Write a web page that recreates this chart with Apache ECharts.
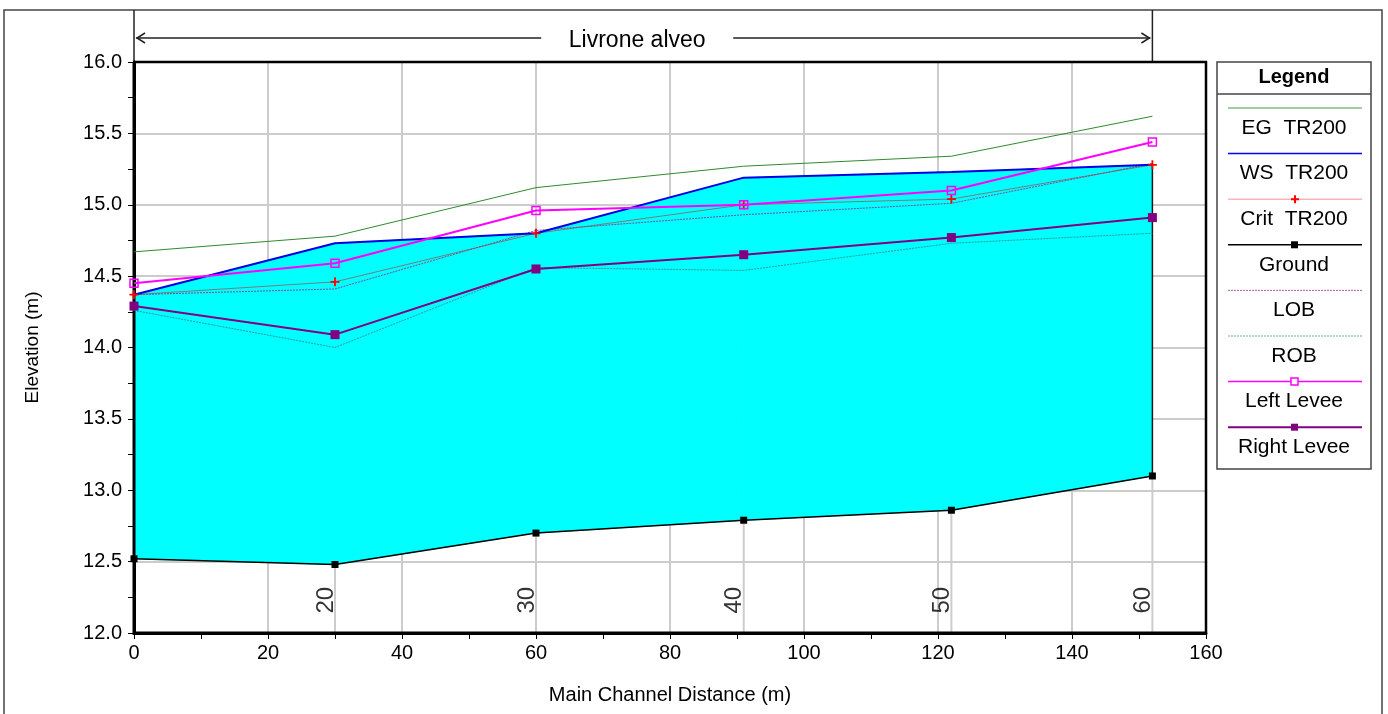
<!DOCTYPE html>
<html>
<head>
<meta charset="utf-8">
<script src="https://cdn.jsdelivr.net/npm/echarts@6/dist/echarts.min.js"></script>
<style>
  html, body { margin: 0; padding: 0; background: #fff; }
  #chart { width: 1388px; height: 714px; }
</style>
</head>
<body>
<div id="chart"></div>
<script>
// river stations along the reach (main channel distance, m)
const stations = [0, 30, 60, 91, 122, 152];
const stationLabels = ['', '20', '30', '40', '50', '60'];

// elevations (m)
const egTR200 = [14.67, 14.78, 15.12, 15.27, 15.34, 15.62];
const wsTR200 = [14.37, 14.73, 14.80, 15.19, 15.23, 15.28];
const critTR200 = [14.37, 14.46, 14.80, 15.00, 15.04, 15.28];
const ground = [12.52, 12.48, 12.70, 12.79, 12.86, 13.10];
const lob = [14.37, 14.41, 14.82, 14.93, 15.01, 15.29];
const rob = [14.26, 14.00, 14.56, 14.54, 14.73, 14.80];
const leftLevee = [14.45, 14.59, 14.96, 15.00, 15.10, 15.44];
const rightLevee = [14.29, 14.09, 14.55, 14.65, 14.77, 14.91];

const yTicks = [12, 12.5, 13, 13.5, 14, 14.5, 15, 15.5, 16];
const xTicks = [0, 20, 40, 60, 80, 100, 120, 140, 160];

const reachTitle = 'Livrone alveo';
const FONT = '"Liberation Sans", Arial, sans-serif';
const GRID_GRAY = '#cccccc';

const pairs = (ys) => stations.map((x, i) => [x, ys[i]]);
const plusPath = 'path://M4,0 L6,0 L6,4 L10,4 L10,6 L6,6 L6,10 L4,10 L4,6 L0,6 L0,4 L4,4 Z';

// one water-section segment per pair of stations: [xa, xb, groundA, groundB, wsA, wsB]
const waterSegments = stations.slice(0, -1).map((x, i) => [
  x, stations[i + 1], ground[i], ground[i + 1], wsTR200[i], wsTR200[i + 1],
]);

// legend entries (drawn as graphic: sample line above the text)
const legendItems = [
  { name: 'EG  TR200', color: '#4a9a4a', width: 1 },
  { name: 'WS  TR200', color: '#0000ff', width: 1.5 },
  { name: 'Crit  TR200', color: '#ff9090', width: 1, marker: 'plus', mColor: '#ff0000' },
  { name: 'Ground', color: '#000000', width: 1.5, marker: 'square', mColor: '#000000' },
  { name: 'LOB', color: '#b060b0', width: 1, dash: [2, 1] },
  { name: 'ROB', color: '#60b0b0', width: 1, dash: [2, 1] },
  { name: 'Left Levee', color: '#ff00ff', width: 1.5, marker: 'open', mColor: '#ff00ff' },
  { name: 'Right Levee', color: '#800080', width: 2, marker: 'square', mColor: '#800080' },
];

const chart = echarts.init(document.getElementById('chart'));

const option = {
  animation: false,
  backgroundColor: '#fff',
  textStyle: { fontFamily: FONT },
  grid: {
    left: 134,
    right: 182,
    top: 62,
    bottom: 81,
    show: true,
    borderColor: '#000',
    borderWidth: 2,
    backgroundColor: '#fff',
  },
  xAxis: {
    type: 'value',
    min: xTicks[0],
    max: xTicks[xTicks.length - 1],
    interval: 20,
    name: 'Main Channel Distance (m)',
    nameLocation: 'middle',
    nameGap: 52,
    nameTextStyle: { fontSize: 20, color: '#000', fontFamily: FONT },
    axisLine: { onZero: false, lineStyle: { color: '#000', width: 3 } },
    axisTick: { length: 6, lineStyle: { color: '#000', width: 1 } },
    minorTick: { show: true, splitNumber: 2, length: 6, lineStyle: { color: '#000', width: 1 } },
    axisLabel: { fontSize: 20, color: '#000', margin: 10, fontFamily: FONT },
    splitLine: { show: true, lineStyle: { color: GRID_GRAY, width: 2 } },
  },
  yAxis: {
    type: 'value',
    min: yTicks[0],
    max: yTicks[yTicks.length - 1],
    interval: 0.5,
    name: 'Elevation (m)',
    nameLocation: 'middle',
    nameGap: 92,
    nameTextStyle: { fontSize: 19, color: '#000', fontFamily: FONT },
    axisLine: { onZero: false, lineStyle: { color: '#000', width: 3 } },
    axisTick: { length: 6, lineStyle: { color: '#000', width: 1 } },
    minorTick: { show: true, splitNumber: 2, length: 6, lineStyle: { color: '#000', width: 1 } },
    axisLabel: {
      fontSize: 20,
      color: '#000',
      margin: 12,
      fontFamily: FONT,
      formatter: (v) => v.toFixed(1),
    },
    splitLine: { show: true, lineStyle: { color: GRID_GRAY, width: 2 } },
  },
  series: [
    // vertical station lines from the axis up to the ground
    {
      name: 'stationLines',
      type: 'custom',
      silent: true,
      data: pairs(ground),
      renderItem: (params, api) => {
        const top = api.coord([api.value(0), api.value(1)]);
        const bottom = api.coord([api.value(0), yTicks[0]]);
        return {
          type: 'line',
          shape: { x1: top[0], y1: top[1], x2: bottom[0], y2: bottom[1] },
          style: { stroke: GRID_GRAY, lineWidth: 2 },
        };
      },
      z: 1,
    },
    // water fill between ground and water surface
    {
      name: 'water',
      type: 'custom',
      silent: true,
      data: waterSegments,
      renderItem: (params, api) => {
        const xa = api.value(0);
        const xb = api.value(1);
        const pts = [
          api.coord([xa, api.value(2)]),
          api.coord([xb, api.value(3)]),
          api.coord([xb, api.value(5)]),
          api.coord([xa, api.value(4)]),
        ];
        return {
          type: 'polygon',
          shape: { points: pts },
          style: { fill: '#00ffff', stroke: '#00ffff', lineWidth: 0.8 },
        };
      },
      z: 2,
    },
    // right edge of the wetted section
    {
      name: 'edge',
      type: 'line',
      data: [
        [stations[stations.length - 1], ground[ground.length - 1]],
        [stations[stations.length - 1], wsTR200[wsTR200.length - 1]],
      ],
      symbol: 'none',
      lineStyle: { color: '#1a1a1a', width: 1.5 },
      z: 4,
    },
    {
      name: 'EG  TR200',
      type: 'line',
      data: pairs(egTR200),
      symbol: 'none',
      lineStyle: { color: '#2e8b2e', width: 1 },
      z: 4,
    },
    {
      name: 'ROB',
      type: 'line',
      data: pairs(rob),
      symbol: 'none',
      lineStyle: { color: '#2a9a9a', width: 1, type: [2, 1] },
      z: 4,
    },
    {
      name: 'LOB',
      type: 'line',
      data: pairs(lob),
      symbol: 'none',
      lineStyle: { color: '#7a4aa0', width: 1, type: [2, 1] },
      z: 4,
    },
    {
      name: 'Crit  TR200',
      type: 'line',
      data: pairs(critTR200),
      symbol: plusPath,
      symbolSize: 9,
      itemStyle: { color: '#ff0000' },
      lineStyle: { color: 'rgba(170,70,70,0.7)', width: 1 },
      z: 5,
    },
    {
      name: 'WS  TR200',
      type: 'line',
      data: pairs(wsTR200),
      symbol: 'none',
      lineStyle: { color: '#0000e0', width: 2 },
      z: 5,
    },
    {
      name: 'Ground',
      type: 'line',
      data: pairs(ground),
      symbol: 'rect',
      symbolSize: 7,
      itemStyle: { color: '#000' },
      lineStyle: { color: '#000', width: 1.5 },
      z: 5,
    },
    {
      name: 'Right Levee',
      type: 'line',
      data: pairs(rightLevee),
      symbol: 'rect',
      symbolSize: 9,
      itemStyle: { color: '#800080' },
      lineStyle: { color: '#800080', width: 2 },
      z: 6,
    },
    {
      name: 'Left Levee',
      type: 'line',
      data: pairs(leftLevee),
      symbol: 'rect',
      symbolSize: 8,
      itemStyle: { color: 'rgba(255,255,255,0)', borderColor: '#ff00ff', borderWidth: 1.5 },
      lineStyle: { color: '#ff00ff', width: 2 },
      z: 6,
    },
    // river station labels
    {
      name: 'stationText',
      type: 'scatter',
      silent: true,
      symbolSize: 0,
      data: stations.map((x, i) => ({ value: [x, 12.23], name: stationLabels[i] })),
      label: {
        show: true,
        position: 'inside',
        rotate: 90,
        offset: [0, -9],
        formatter: (p) => p.name,
        fontSize: 24,
        color: '#000',
        fontFamily: FONT,
      },
      z: 7,
    },
  ],
};

chart.setOption(option);

// decorations: outer frame, plot frame, reach title with arrows, legend box
const x0 = chart.convertToPixel({ gridIndex: 0 }, [stations[0], 16])[0];
const x1 = chart.convertToPixel({ gridIndex: 0 }, [stations[stations.length - 1], 16])[0];
const plotTL = chart.convertToPixel({ gridIndex: 0 }, [xTicks[0], yTicks[yTicks.length - 1]]);
const plotBR = chart.convertToPixel({ gridIndex: 0 }, [xTicks[xTicks.length - 1], yTicks[0]]);
const mid = (x0 + x1) / 2 - 6;
const arrowY = 38;

const graphics = [
  {
    type: 'rect',
    shape: { x: 4, y: 10, width: 1378, height: 720 },
    style: { fill: 'none', stroke: '#444', lineWidth: 1.5 },
    silent: true,
  },
  // plot frame: kept above the water fill, below the data lines and markers
  {
    type: 'polyline',
    shape: { points: [[plotTL[0], plotTL[1]], [plotBR[0], plotTL[1]], [plotBR[0], plotBR[1]]] },
    style: { stroke: '#000', lineWidth: 2.5, fill: 'none' },
    z: 3,
  },
  {
    type: 'polyline',
    shape: { points: [[plotTL[0], plotTL[1]], [plotTL[0], plotBR[1]], [plotBR[0], plotBR[1]]] },
    style: { stroke: '#000', lineWidth: 3, fill: 'none' },
    z: 3,
  },
  { type: 'line', shape: { x1: x0, y1: 10, x2: x0, y2: 62 }, style: { stroke: '#222', lineWidth: 1.5 } },
  { type: 'line', shape: { x1: x1, y1: 10, x2: x1, y2: 62 }, style: { stroke: '#222', lineWidth: 1.5 } },
  { type: 'line', shape: { x1: x0 + 2, y1: arrowY, x2: mid - 96, y2: arrowY }, style: { stroke: '#222', lineWidth: 1.5 } },
  { type: 'line', shape: { x1: mid + 96, y1: arrowY, x2: x1 - 2, y2: arrowY }, style: { stroke: '#222', lineWidth: 1.5 } },
  {
    type: 'polyline',
    shape: { points: [[x0 + 11, arrowY - 5], [x0 + 3, arrowY], [x0 + 11, arrowY + 5]] },
    style: { stroke: '#222', lineWidth: 1.5, fill: 'none' },
  },
  {
    type: 'polyline',
    shape: { points: [[x1 - 11, arrowY - 5], [x1 - 3, arrowY], [x1 - 11, arrowY + 5]] },
    style: { stroke: '#222', lineWidth: 1.5, fill: 'none' },
  },
  {
    type: 'text',
    x: mid,
    y: arrowY + 3,
    style: {
      text: reachTitle,
      font: '23px ' + FONT,
      fill: '#000',
      align: 'center',
      verticalAlign: 'middle',
    },
  },
  // legend box
  {
    type: 'rect',
    shape: { x: 1217, y: 62, width: 154, height: 407 },
    style: { fill: '#fff', stroke: '#444', lineWidth: 1.5 },
  },
  { type: 'line', shape: { x1: 1217, y1: 94, x2: 1371, y2: 94 }, style: { stroke: '#444', lineWidth: 1.5 } },
  {
    type: 'text',
    x: 1294,
    y: 77,
    style: {
      text: 'Legend',
      font: 'bold 20px ' + FONT,
      fill: '#000',
      align: 'center',
      verticalAlign: 'middle',
    },
  },
];

legendItems.forEach((item, i) => {
  const ly = 108 + i * 45.6;
  graphics.push({
    type: 'line',
    shape: { x1: 1228, y1: ly, x2: 1362, y2: ly },
    style: { stroke: item.color, lineWidth: item.width, lineDash: item.dash || null },
  });
  if (item.marker === 'plus') {
    graphics.push({
      type: 'polygon',
      shape: {
        points: [
          [1294, ly - 4], [1296, ly - 4], [1296, ly - 1], [1299, ly - 1], [1299, ly + 1], [1296, ly + 1],
          [1296, ly + 4], [1294, ly + 4], [1294, ly + 1], [1291, ly + 1], [1291, ly - 1], [1294, ly - 1],
        ],
      },
      style: { fill: item.mColor },
    });
  } else if (item.marker === 'square') {
    graphics.push({
      type: 'rect',
      shape: { x: 1291, y: ly - 3.5, width: 7, height: 7 },
      style: { fill: item.mColor },
    });
  } else if (item.marker === 'open') {
    graphics.push({
      type: 'rect',
      shape: { x: 1291, y: ly - 3.5, width: 7, height: 7 },
      style: { fill: '#fff', stroke: item.mColor, lineWidth: 1.5 },
    });
  }
  graphics.push({
    type: 'text',
    x: 1294,
    y: ly + 20,
    style: {
      text: item.name,
      font: '21px ' + FONT,
      fill: '#000',
      align: 'center',
      verticalAlign: 'middle',
    },
  });
});

chart.setOption({ graphic: graphics });
</script>
</body>
</html>
